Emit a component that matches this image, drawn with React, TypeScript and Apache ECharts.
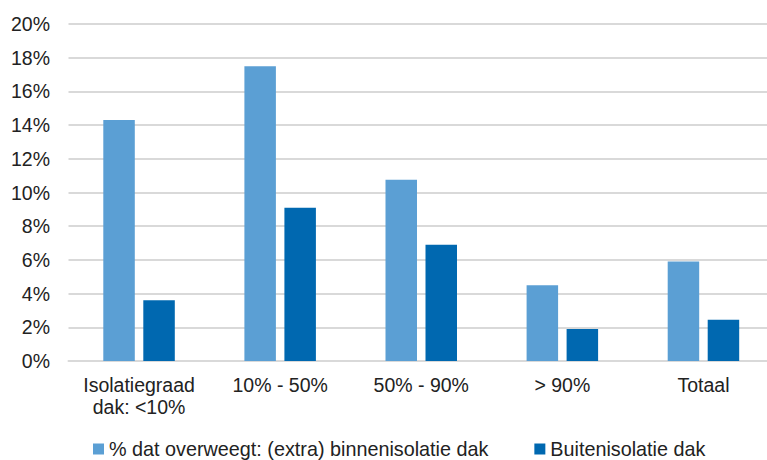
import React, { useEffect, useRef } from "react";
import * as echarts from "echarts";

const categories = ["Isolatiegraad\ndak: <10%", "10% - 50%", "50% - 90%", "> 90%", "Totaal"];
const seriesNames = ["% dat overweegt: (extra) binnenisolatie dak", "Buitenisolatie dak"];
const binnen = [14.3, 17.5, 10.75, 4.5, 5.9];
const buiten = [3.6, 9.1, 6.9, 1.9, 2.45];
const yTicks = { min: 0, max: 20, interval: 2 };

export default function App() {
  const ref = useRef<HTMLDivElement>(null);
  useEffect(() => {
    if (!ref.current) return;
    const chart = echarts.init(ref.current, undefined, { renderer: "svg" });
    const font = "Liberation Sans, Arial, sans-serif";
    chart.setOption({
      animation: false,
      textStyle: { fontFamily: font },
      grid: { left: 68.5, right: 6, top: 24, bottom: 99, containLabel: false },
      legend: {
        left: 93,
        top: 439,
        padding: 0,
        itemWidth: 11,
        itemHeight: 11,
        itemGap: 46,
        icon: "rect",
        textStyle: { fontFamily: font, fontSize: 19.8, color: "#222" },
        data: seriesNames,
      },
      xAxis: {
        type: "category",
        data: categories,
        axisLine: { show: true, lineStyle: { color: "#d9d9d9", width: 2 } },
        axisTick: { show: false },
        axisLabel: { color: "#222", fontSize: 19.5, fontFamily: font, margin: 13, lineHeight: 22, interval: 0 },
      },
      yAxis: {
        type: "value",
        min: yTicks.min,
        max: yTicks.max,
        interval: yTicks.interval,
        axisLine: { show: false },
        axisTick: { show: false },
        splitLine: { lineStyle: { color: "#d9d9d9", width: 2 } },
        axisLabel: { color: "#222", fontSize: 19.5, fontFamily: font, margin: 18.5, formatter: "{value}%" },
      },
      series: [
        { name: seriesNames[0], type: "bar", data: binnen, barWidth: 31.5, barGap: "27%", itemStyle: { color: "#5B9FD4" } },
        { name: seriesNames[1], type: "bar", data: buiten, barWidth: 31.5, itemStyle: { color: "#0068B0" } },
      ],
    });
    return () => chart.dispose();
  }, []);
  return <div ref={ref} style={{ position: "fixed", left: 0, top: 0, width: 780, height: 460, background: "#fff" }} />;
}
